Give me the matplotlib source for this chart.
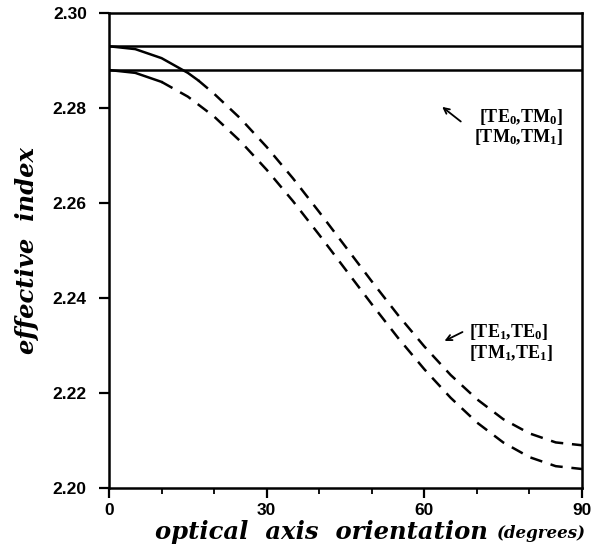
import matplotlib.pyplot as plt
from matplotlib.ticker import MultipleLocator

plt.rcParams["mathtext.fontset"] = "custom"
plt.rcParams["mathtext.rm"] = "Liberation Serif:bold"
plt.rcParams["mathtext.it"] = "Liberation Serif:bold"

# flat branches (constant effective index over the whole range)
flat_angle = [0, 90]
flat_upper = [2.2930, 2.2930]
flat_lower = [2.2880, 2.2880]

# branch leaving the upper flat line: solid part, then dashed part
upper_solid_angle = [0, 5, 10, 15, 17]
upper_solid_index = [2.2930, 2.2924, 2.2905, 2.2874, 2.2858]
upper_dash_angle = [17, 20, 25, 30, 35, 40, 45, 50, 55, 60, 65, 70, 75, 80, 85, 90]
upper_dash_index = [2.2858, 2.2830, 2.2778, 2.2718, 2.2652, 2.2581, 2.2508, 2.2435,
                    2.2364, 2.2298, 2.2238, 2.2187, 2.2145, 2.2115, 2.2096, 2.2090]

# branch leaving the lower flat line
lower_solid_angle = [0, 5, 10]
lower_solid_index = [2.2880, 2.2874, 2.2855]
lower_dash_angle = [10, 15, 20, 25, 30, 35, 40, 45, 50, 55, 60, 65, 70, 75, 80, 85, 90]
lower_dash_index = [2.2855, 2.2824, 2.2782, 2.2730, 2.2670, 2.2604, 2.2533, 2.2460,
                    2.2387, 2.2316, 2.2250, 2.2190, 2.2138, 2.2096, 2.2065, 2.2046, 2.2040]

x_ticks = [0, 30, 60, 90]
y_ticks = [2.20, 2.22, 2.24, 2.26, 2.28, 2.30]

fig = plt.figure(figsize=(5.97, 5.54), dpi=100)
ax = fig.add_axes([0.1826, 0.1191, 0.7923, 0.8574])

lw = 1.8
dash = (0, (5, 3.5))
ax.plot(flat_angle, flat_upper, color="black", lw=lw)
ax.plot(flat_angle, flat_lower, color="black", lw=lw)
ax.plot(upper_solid_angle, upper_solid_index, color="black", lw=lw)
ax.plot(upper_dash_angle, upper_dash_index, color="black", lw=lw, linestyle=dash)
ax.plot(lower_solid_angle, lower_solid_index, color="black", lw=lw)
ax.plot(lower_dash_angle, lower_dash_index, color="black", lw=lw, linestyle=dash)

ax.set_xlim(0, 90)
ax.set_ylim(2.20, 2.30)
ax.set_xticks(x_ticks)
ax.set_yticks(y_ticks)
ax.set_yticklabels([f"{v:.2f}" for v in y_ticks])
ax.xaxis.set_minor_locator(MultipleLocator(10))

for s in ax.spines.values():
    s.set_linewidth(1.8)
tick_font = dict(family="Liberation Sans", weight="bold", size=12.5)
ax.tick_params(axis="both", which="major", direction="out", length=7, width=1.6)
ax.tick_params(axis="y", pad=9)
ax.tick_params(axis="x", pad=4)
ax.tick_params(axis="x", which="minor", direction="out", length=4, width=1.3)
for lab in ax.get_xticklabels() + ax.get_yticklabels():
    lab.set_fontproperties(tick_font)

label_font = dict(family="DejaVu Serif", weight="bold", style="italic")
ax.set_ylabel("effective  index", fontsize=17.5, labelpad=10, **label_font)
fig.text(0.26, 0.04, "optical  axis  orientation", fontsize=17.5, ha="left",
         va="center", **label_font)
fig.text(0.832, 0.037, "(degrees)", fontsize=12, ha="left", va="center", **label_font)

note_font = dict(family="Liberation Serif", weight="bold", size=13)
ax.text(86.4, 2.2781, r"[TE$_0$,TM$_0$]", ha="right", va="center", **note_font)
ax.text(86.4, 2.2739, r"[TM$_0$,TM$_1$]", ha="right", va="center", **note_font)
ax.annotate("", xy=(62.98, 2.2806), xytext=(67.35, 2.2768),
            arrowprops=dict(arrowstyle="->", color="black", lw=1.3))

ax.text(68.5, 2.2328, r"[TE$_1$,TE$_0$]", ha="left", va="center", **note_font)
ax.text(68.5, 2.2284, r"[TM$_1$,TE$_1$]", ha="left", va="center", **note_font)
ax.annotate("", xy=(63.36, 2.2307), xytext=(67.73, 2.2331),
            arrowprops=dict(arrowstyle="->", color="black", lw=1.3))

fig.savefig("out.png", dpi=100)
